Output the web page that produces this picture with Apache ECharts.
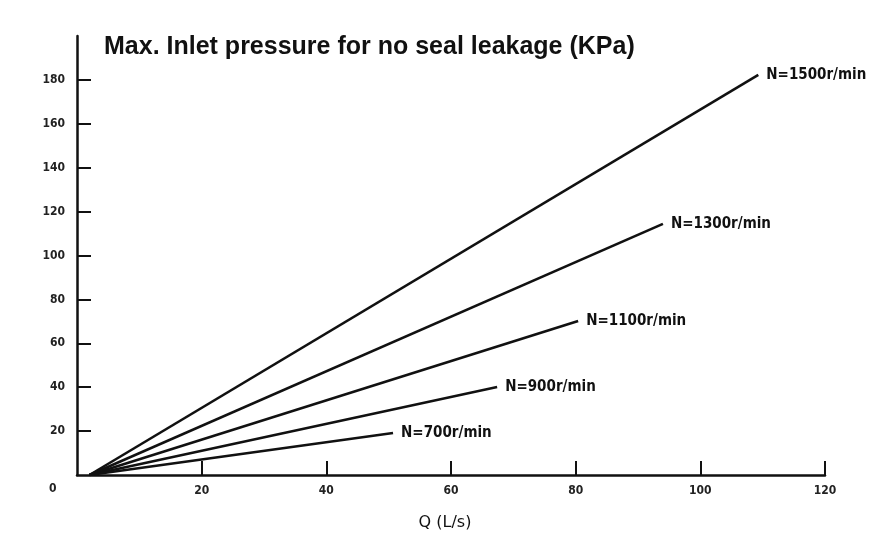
<!DOCTYPE html>
<html><head><meta charset="utf-8">
<script src="https://cdn.jsdelivr.net/npm/echarts@6/dist/echarts.min.js"></script>
<style>html,body{margin:0;padding:0;background:#fff}#c{width:891px;height:539px}</style>
</head><body><div id="c"></div>
<script>
const seriesNames = ['N=1500r/min','N=1300r/min','N=1100r/min','N=900r/min','N=700r/min'];
const startQ = [2, 2, 2, 2, 2];
const startP = [0, 0, 0, 0, 0];
const endQ = [109.3, 94.0, 80.4, 67.4, 50.7];
const endP = [182.3, 114.4, 70.2, 40.1, 19.1];
const xTicks = [20, 40, 60, 80, 100, 120];
const yTicks = [20, 40, 60, 80, 100, 120, 140, 160, 180];

const chart = echarts.init(document.getElementById('c'));
const labelFont = 'DejaVu Sans Condensed';
chart.setOption({
  animation: false,
  backgroundColor: '#fff',
  title: {
    text: 'Max. Inlet pressure for no seal leakage (KPa)',
    left: 99, top: 30,
    textStyle: {fontFamily: 'Liberation Sans', fontWeight: 'bold', fontSize: 25, color: '#111'}
  },
  grid: {left: 77, right: 66, top: 36, bottom: 64},
  xAxis: {
    type: 'value', min: 0, max: 120, interval: 20,
    name: 'Q (L/s)', nameLocation: 'middle', nameGap: 40,
    nameTextStyle: {fontFamily: 'DejaVu Sans', fontSize: 16, color: '#111', padding: [0, 12, 0, 0]},
    axisLine: {show: true, lineStyle: {color: '#111', width: 2.5}},
    axisTick: {show: true, inside: true, length: 14, customValues: xTicks, lineStyle: {color: '#111', width: 2}},
    axisLabel: {customValues: xTicks, margin: 10, fontFamily: labelFont, fontSize: 12, fontWeight: 'bold', color: '#222'},
    splitLine: {show: false}
  },
  yAxis: {
    type: 'value', min: 0, max: 200, interval: 20,
    axisLine: {show: true, lineStyle: {color: '#111', width: 2.5}},
    axisTick: {show: true, inside: true, length: 14, customValues: yTicks, lineStyle: {color: '#111', width: 2}},
    axisLabel: {customValues: yTicks, margin: 12, fontFamily: labelFont, fontSize: 12, fontWeight: 'bold', color: '#222'},
    splitLine: {show: false}
  },
  graphic: [{
    type: 'text', left: 49, top: 483,
    style: {text: '0', font: 'bold 12px "DejaVu Sans Condensed"', fill: '#222'}
  }],
  series: seriesNames.map((n, i) => ({
    name: n, type: 'line', showSymbol: false, symbol: 'none',
    data: [[startQ[i], startP[i]], [endQ[i], endP[i]]],
    lineStyle: {color: '#111', width: 2.6},
    endLabel: {show: true, formatter: '{a}', distance: 8, fontFamily: labelFont, fontWeight: 'bold', fontSize: 15, color: '#111'}
  }))
});
</script></body></html>
